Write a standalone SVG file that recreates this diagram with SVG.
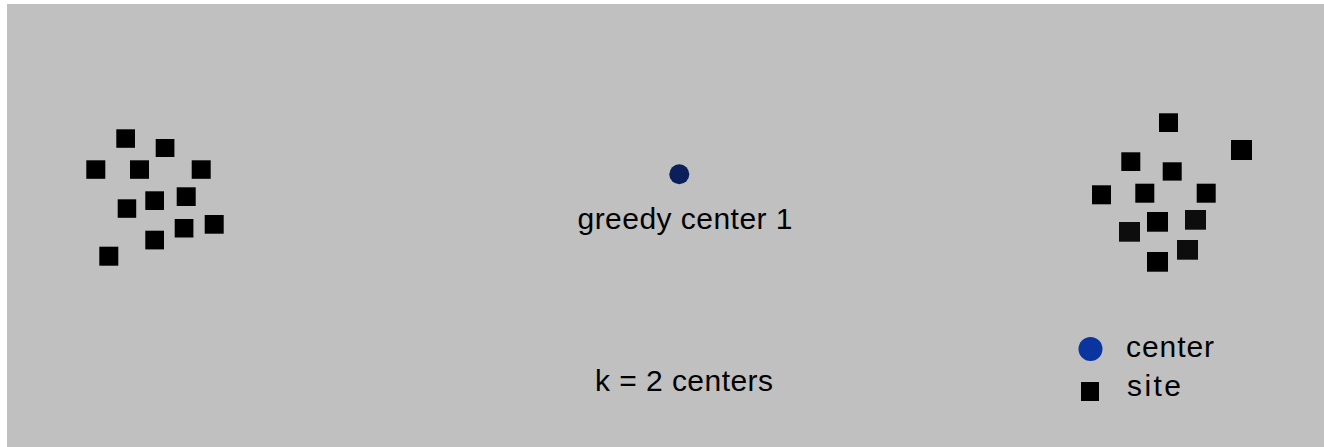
<svg xmlns="http://www.w3.org/2000/svg" width="1324" height="447" viewBox="0 0 1324 447">
<style>
.site{fill:#000;}
.site2{fill:#0d0d0d;}
.lbl{font-family:"Liberation Sans",Arial,sans-serif;font-size:30px;fill:#000;}
</style>
<rect x="0" y="0" width="1324" height="447" fill="#ffffff"/>
<rect x="7" y="4" width="1317" height="443" fill="#c0c0c0"/>
<g id="left-cluster">
<rect class="site" x="116.3" y="129.3" width="18.7" height="18.5"/>
<rect class="site" x="155.7" y="139" width="18.7" height="18"/>
<rect class="site" x="86.3" y="160.3" width="19" height="18.5"/>
<rect class="site" x="130" y="160.3" width="19" height="18.5"/>
<rect class="site" x="191.7" y="160.3" width="19" height="18.5"/>
<rect class="site" x="117.7" y="199.3" width="18.5" height="18.5"/>
<rect class="site" x="145.3" y="191.3" width="18.7" height="18.7"/>
<rect class="site" x="176.7" y="187.3" width="19" height="18.7"/>
<rect class="site" x="174.7" y="219" width="18.7" height="18.5"/>
<rect class="site" x="204.7" y="215" width="19" height="18.7"/>
<rect class="site" x="145.3" y="230.7" width="18.7" height="18.7"/>
<rect class="site" x="99.3" y="246.7" width="19" height="19"/>
</g>
<g id="right-cluster">
<rect class="site" x="1159" y="113.3" width="19" height="18.7"/>
<rect class="site" x="1231" y="140" width="21" height="20"/>
<rect class="site" x="1121.3" y="152.3" width="19" height="18.7"/>
<rect class="site" x="1162.7" y="162.3" width="19" height="18.3"/>
<rect class="site" x="1092" y="185.3" width="19" height="19"/>
<rect class="site" x="1135.3" y="183.7" width="19" height="19"/>
<rect class="site" x="1196.7" y="183.7" width="19" height="19"/>
<rect class="site" x="1147" y="212" width="21" height="19.7"/>
<rect class="site2" x="1185" y="210" width="21" height="19.7"/>
<rect class="site2" x="1119" y="222" width="21" height="19.7"/>
<rect class="site2" x="1177" y="240" width="21" height="19.7"/>
<rect class="site" x="1147" y="252" width="21" height="19.7"/>
</g>
<g id="greedy-center">
<circle cx="679.3" cy="174.3" r="10" fill="#0b1f5b"/>
<text class="lbl" x="577.5" y="228.5" textLength="215" lengthAdjust="spacing">greedy center 1</text>
</g>
<g id="k-label">
<text class="lbl" x="595" y="391" textLength="178" lengthAdjust="spacing">k = 2 centers</text>
</g>
<g id="legend">
<circle cx="1090.5" cy="349" r="12" fill="#0a35a0"/>
<text class="lbl" x="1126" y="357" textLength="88" lengthAdjust="spacing">center</text>
<rect class="site" x="1081" y="382" width="18" height="19"/>
<text class="lbl" x="1127" y="396" textLength="54" lengthAdjust="spacing">site</text>
</g>
<g id="connectors"></g>
</svg>
